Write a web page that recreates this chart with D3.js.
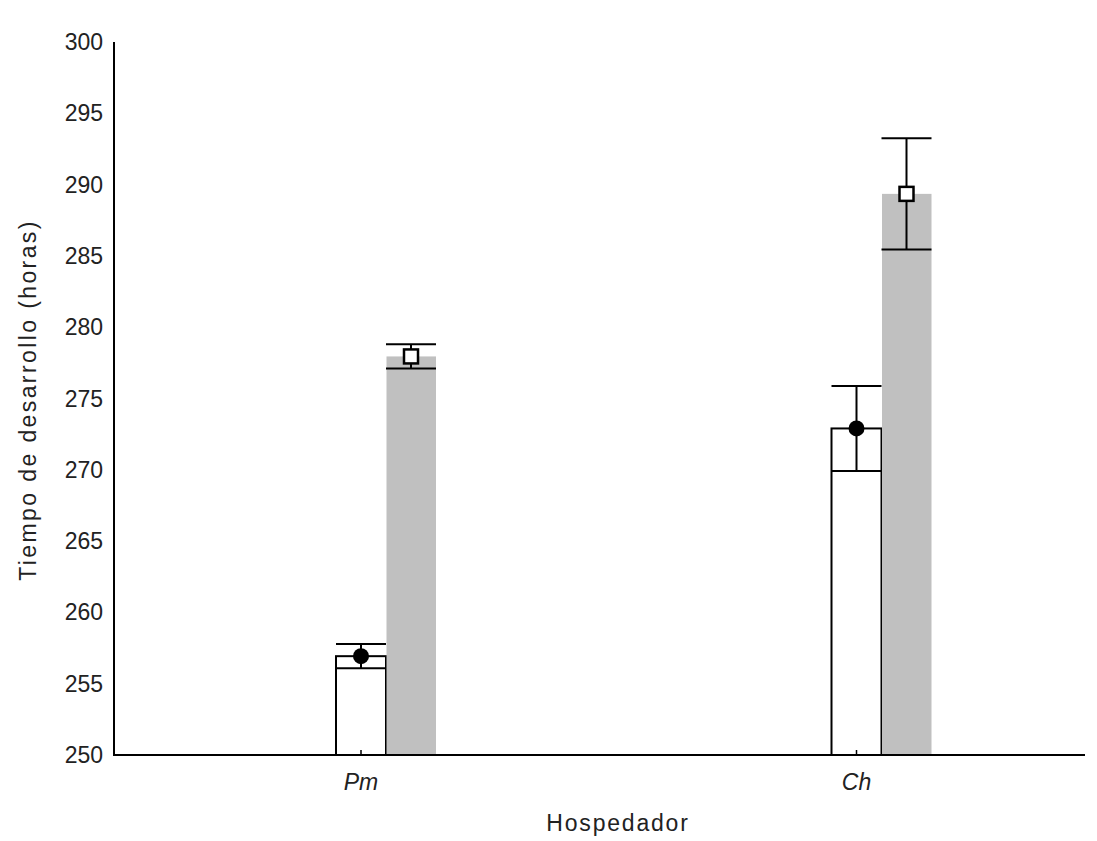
<!DOCTYPE html>
<html><head><meta charset="utf-8">
<script src="https://cdn.jsdelivr.net/npm/d3@7"></script>
<style>body{margin:0;background:#fff}svg{display:block}</style>
</head><body>
<script>
const categories = ["Pm", "Ch"];
const seriesNames = ["A", "B"];
const meanA = [256.93, 272.9];
const errA = [0.85, 2.98];
const meanB = [277.95, 289.35];
const errB = [0.85, 3.9];
const yTicks = [250, 255, 260, 265, 270, 275, 280, 285, 290, 295, 300];

const W = 1097, H = 841;
const svg = d3.select("body").append("svg").attr("width", W).attr("height", H);
const font = "'Liberation Sans', Arial, sans-serif";

const y = d3.scaleLinear().domain([250, 300]).range([755, 42]);
const x0 = d3.scalePoint().domain(categories).range([386, 881.5]);
const x1 = d3.scaleBand().domain(seriesNames).range([-50, 50]).padding(0);
const bw = x1.bandwidth();

const data = [];
categories.forEach((c, i) => {
  data.push({cat: c, s: "A", m: meanA[i], e: errA[i]});
  data.push({cat: c, s: "B", m: meanB[i], e: errB[i]});
});
const cx = d => x0(d.cat) + x1(d.s) + bw / 2;

// bars
svg.selectAll("rect.bar").data(data).enter().append("rect")
  .attr("x", d => x0(d.cat) + x1(d.s) + (d.s === "A" ? 0 : 0.5))
  .attr("y", d => y(d.m))
  .attr("width", d => d.s === "A" ? bw : bw - 0.5)
  .attr("height", d => y(250) - y(d.m))
  .attr("fill", d => d.s === "A" ? "#fff" : "#c0c0c0")
  .attr("stroke", d => d.s === "A" ? "#000" : "none")
  .attr("stroke-width", 2);

// error bars
const eb = svg.selectAll("g.eb").data(data).enter().append("g").attr("stroke", "#000").attr("stroke-width", 2);
eb.append("line").attr("x1", cx).attr("x2", cx).attr("y1", d => y(d.m + d.e)).attr("y2", d => y(d.m - d.e));
eb.append("line").attr("x1", d => cx(d) - bw / 2).attr("x2", d => cx(d) + bw / 2)
  .attr("y1", d => y(d.m + d.e)).attr("y2", d => y(d.m + d.e));
eb.append("line").attr("x1", d => cx(d) - bw / 2).attr("x2", d => cx(d) + bw / 2)
  .attr("y1", d => y(d.m - d.e)).attr("y2", d => y(d.m - d.e));

// markers
svg.selectAll("circle.mk").data(data.filter(d => d.s === "A")).enter().append("circle")
  .attr("cx", cx).attr("cy", d => y(d.m)).attr("r", 8).attr("fill", "#000");
svg.selectAll("rect.mk").data(data.filter(d => d.s === "B")).enter().append("rect")
  .attr("x", d => cx(d) - 7).attr("y", d => y(d.m) - 7).attr("width", 14).attr("height", 14)
  .attr("fill", "#fff").attr("stroke", "#000").attr("stroke-width", 2.5);

// axes
svg.append("line").attr("x1", 114).attr("x2", 114).attr("y1", y(300)).attr("y2", y(250)).attr("stroke", "#000").attr("stroke-width", 2);
svg.append("line").attr("x1", 113).attr("x2", 1085).attr("y1", y(250)).attr("y2", y(250)).attr("stroke", "#000").attr("stroke-width", 2);

svg.selectAll("text.yt").data(yTicks).enter().append("text")
  .attr("x", 103).attr("y", d => y(d)).attr("dy", "0.35em").attr("text-anchor", "end")
  .attr("font-family", font).attr("font-size", 23).attr("fill", "#222").text(d => d);

// x ticks
svg.selectAll("line.xt").data(categories).enter().append("line")
  .attr("x1", c => x0(c) + x1("A") + bw / 2).attr("x2", c => x0(c) + x1("A") + bw / 2)
  .attr("y1", y(250)).attr("y2", y(250) - 5).attr("stroke", "#000").attr("stroke-width", 1.5);
svg.selectAll("text.xl").data(categories).enter().append("text")
  .attr("x", c => x0(c) + x1("A") + bw / 2).attr("y", 790).attr("text-anchor", "middle")
  .attr("font-family", font).attr("font-size", 23).attr("font-style", "italic").attr("fill", "#222").text(c => c);

svg.append("text").attr("x", 618).attr("y", 831).attr("text-anchor", "middle")
  .attr("font-family", font).attr("font-size", 23).attr("letter-spacing", "1.8px").attr("fill", "#222").text("Hospedador");

svg.append("text").attr("transform", "translate(36,400) rotate(-90)").attr("text-anchor", "middle")
  .attr("font-family", font).attr("font-size", 23).attr("letter-spacing", "2.4px").attr("fill", "#222")
  .text("Tiempo de desarrollo (horas)");
</script>
</body></html>
